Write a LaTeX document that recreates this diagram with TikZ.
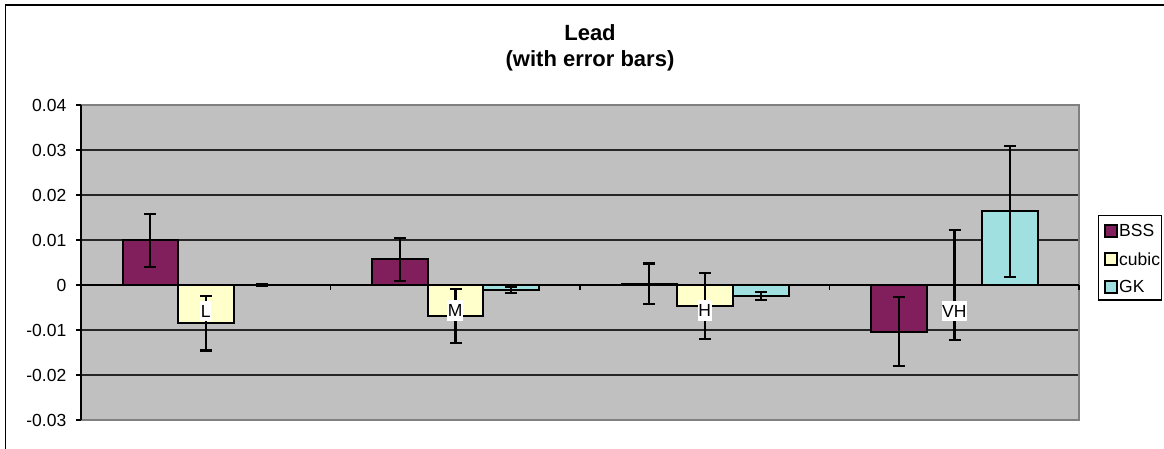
\documentclass[tikz,border=0pt]{standalone}
\usepackage{fontspec}
\setmainfont{Liberation Sans}
\definecolor{bss}{RGB}{128,31,92}
\definecolor{cubic}{RGB}{255,255,204}
\definecolor{gk}{RGB}{160,224,224}
\definecolor{plotbg}{RGB}{192,192,192}
\definecolor{plotrim}{RGB}{128,128,128}
\begin{document}
\begin{tikzpicture}[x=1pt,y=1pt,
    font=\fontsize{17.5}{21}\selectfont,
    bar/.style={draw=black,line width=2pt},
    err/.style={draw=black,line width=2.2pt},
    grid line/.style={draw=black!85,line width=1.2pt},
    ticklab/.style={anchor=east,inner sep=0pt},
    catlab/.style={fill=white,inner xsep=0.6pt,inner ysep=0pt,minimum height=20.5pt},
    legsq/.style={draw=black,line width=2pt,minimum size=11.5pt,inner sep=0pt},
    legtext/.style={anchor=west,inner sep=0pt},
    titlefont/.style={anchor=base,inner sep=0pt,font=\fontsize{22}{26}\selectfont\bfseries}]
    \useasboundingbox (0,0) rectangle (1164,448);
    \fill[white] (0,0) rectangle (1164,448);
    \draw[line width=1.4pt] (5.7,-10) -- (5.7,443) -- (1175,443);

    \node[titlefont] (t1) at (590,407.3) {Lead};
    \node[titlefont] (t2) at (590,381.3) {(with error bars)};

    \begin{scope}[shift={(81,163)},y=45pt]
        \fill[plotbg] (0,-3) rectangle (998,4);
        \foreach \v in {-2,-1,1,2,3}
            \draw[grid line] (0,\v) -- (998,\v);
        \draw[draw=plotrim,line width=2.2pt] (0,4) -- (998,4) -- (998,-3) -- (0,-3);
        \draw[line width=1.4pt] (0,4) -- (0,-3);
        \foreach \v/\t in {4/0.04,3/0.03,2/0.02,1/0.01,0/0,-1/-0.01,-2/-0.02,-3/-0.03} {
            \draw[line width=1.2pt] (-5,\v) -- (0,\v);
            \node[ticklab] (tick\v) at (-14.5,\v) {\t};
        }
        \draw[line width=1.2pt] (0,0) -- (998,0);
        \foreach \x in {0,249.5,499,748.5,998}
            \draw[line width=1.2pt] (\x,0) -- (\x,-0.11);

        % bars: left edge / value / half error / colour
        \foreach \x/\v/\e/\c in {
            41.5/0.99/0.595/bss, 97.2/-0.85/0.605/cubic, 152.9/-0.01/0.02/gk,
            291/0.57/0.475/bss, 346.7/-0.68/0.6/cubic, 402.4/-0.11/0.06/gk,
            540.5/0.03/0.45/bss, 596.2/-0.46/0.735/cubic, 651.9/-0.24/0.085/gk,
            790/-1.04/0.765/bss, 845.7/0.0/1.22/cubic, 901.4/1.64/1.455/gk} {
            \filldraw[bar,fill=\c] (\x,0) rectangle +(55.7,\v);
            \draw[err] (\x+27.85,\v+\e) -- (\x+27.85,\v-\e)
                (\x+21.85,\v+\e) -- (\x+33.85,\v+\e)
                (\x+21.85,\v-\e) -- (\x+33.85,\v-\e);
        }

        \node[catlab] (cL) at (124.75,-0.58) {L};
        \node[catlab] (cM) at (374.25,-0.57) {M};
        \node[catlab] (cH) at (623.75,-0.57) {H};
        \node[catlab] (cVH) at (873.25,-0.58) {VH};
    \end{scope}

    \node[draw=black,line width=1.2pt,minimum width=63.4pt,minimum height=84.3pt,inner sep=0pt] (leg) at (1130,190.15) {};
    \node[legsq,fill=bss] (kbss) at (1110.8,217.2) {};
    \node[legsq,fill=cubic] (kcubic) at (1110.8,189.2) {};
    \node[legsq,fill=gk] (kgk) at (1110.8,161.2) {};
    \node[legtext] (lbss) at (1119,217.2) {BSS};
    \node[legtext] (lcubic) at (1119,189.2) {cubic};
    \node[legtext] (lgk) at (1119,161.2) {GK};
\end{tikzpicture}
\end{document}
